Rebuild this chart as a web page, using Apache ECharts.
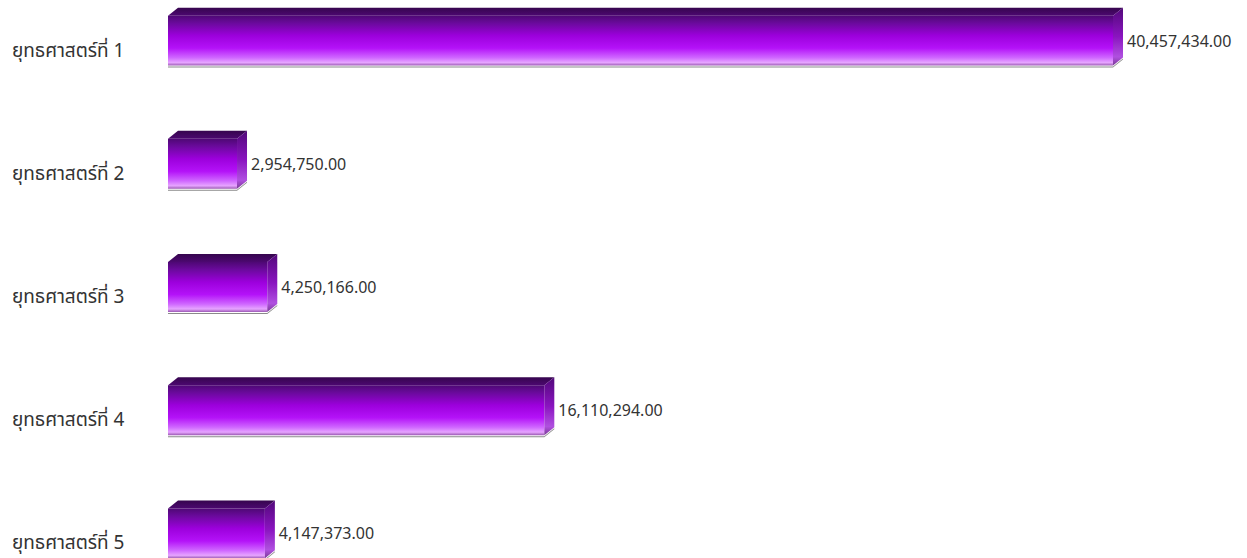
<!DOCTYPE html>
<html>
<head>
<meta charset="utf-8">
<script src="https://cdn.jsdelivr.net/npm/echarts@6/dist/echarts.min.js"></script>
<style>
  html, body { margin: 0; padding: 0; background: #fff; }
  #main { width: 1247px; height: 558px; }
</style>
</head>
<body>
<div id="main"></div>
<script>
// categories and values
var categories = ['ยุทธศาสตร์ที่ 1', 'ยุทธศาสตร์ที่ 2', 'ยุทธศาสตร์ที่ 3', 'ยุทธศาสตร์ที่ 4', 'ยุทธศาสตร์ที่ 5'];
var budgets = [40457434.00, 2954750.00, 4250166.00, 16110294.00, 4147373.00];

var FONT = 'Tahoma, "Noto Sans Thai", "Noto Sans", "DejaVu Sans", sans-serif';

function fmt(v) {
  return v.toLocaleString('en-US', { minimumFractionDigits: 2, maximumFractionDigits: 2 });
}

// 3D-ish box: top face + front face + right face
function renderBox(params, api) {
  var idx = api.value(0);
  var val = api.value(1);
  var p0 = api.coord([0, idx]);
  var p1 = api.coord([val, idx]);
  var band = api.size([0, 1])[1];
  var H = band * 0.47;
  var dx = 10, dy = 8;
  var top = p0[1] - H / 2;
  var fTop = top + dy;
  var bottom = top + H;
  var x0 = p0[0], x1 = p1[0];

  var front = new echarts.graphic.LinearGradient(0, 0, 0, 1, [
    { offset: 0, color: '#4e0874' },
    { offset: 0.15, color: '#6a0a9c' },
    { offset: 0.4, color: '#9c00dc' },
    { offset: 0.65, color: '#b412f8' },
    { offset: 0.84, color: '#cf66ff' },
    { offset: 0.94, color: '#e6a4ff' },
    { offset: 1, color: '#9c5ab4' }
  ]);
  var topFace = new echarts.graphic.LinearGradient(0, 0, 0, 1, [
    { offset: 0, color: '#36054e' },
    { offset: 1, color: '#4c0870' }
  ]);
  var side = new echarts.graphic.LinearGradient(0, 0, 0, 1, [
    { offset: 0, color: '#52097a' },
    { offset: 0.5, color: '#8a14c0' },
    { offset: 0.85, color: '#b050e0' },
    { offset: 1, color: '#7a3a96' }
  ]);

  return {
    type: 'group',
    children: [
      {
        type: 'polygon',
        shape: { points: [[x0, bottom + 1], [x1, bottom + 1], [x1 + dx, bottom - dy + 1], [x1 + dx, bottom - dy + 2], [x1, bottom + 2], [x0, bottom + 2]] },
        style: { fill: '#8a8a8a' }
      },
      {
        type: 'polygon',
        shape: { points: [[x0, fTop], [x0 + dx, top], [x1 + dx, top], [x1, fTop]] },
        style: { fill: topFace }
      },
      {
        type: 'rect',
        shape: { x: x0, y: fTop, width: x1 - x0, height: bottom - fTop },
        style: { fill: front }
      },
      {
        type: 'polygon',
        shape: { points: [[x1, fTop], [x1 + dx, top], [x1 + dx, bottom - dy], [x1, bottom]] },
        style: { fill: side }
      },
      {
        type: 'text',
        style: {
          x: x1 + dx + 4,
          y: (fTop + bottom) / 2 + 1,
          text: fmt(val),
          fill: '#333',
          font: '16px ' + FONT,
          verticalAlign: 'middle',
          align: 'left'
        }
      }
    ]
  };
}

var chart = echarts.init(document.getElementById('main'), null, { renderer: 'svg' });
chart.setOption({
  animation: false,
  backgroundColor: '#fff',
  grid: { left: 168, top: -25, width: 945, height: 616, outerBoundsMode: 'none' },
  xAxis: {
    type: 'value',
    min: 0,
    max: 'dataMax',
    show: false
  },
  yAxis: {
    type: 'category',
    data: categories,
    inverse: true,
    axisLine: { show: false },
    axisTick: { show: false },
    axisLabel: {
      align: 'left',
      verticalAlign: 'top',
      margin: 156,
      color: '#333',
      fontSize: 19,
      fontFamily: FONT,
      padding: [5, 0, 0, 0]
    }
  },
  series: [{
    type: 'custom',
    renderItem: renderBox,
    encode: { x: 1, y: 0 },
    data: budgets.map(function (v, i) { return [i, v]; })
  }]
});
</script>
</body>
</html>
